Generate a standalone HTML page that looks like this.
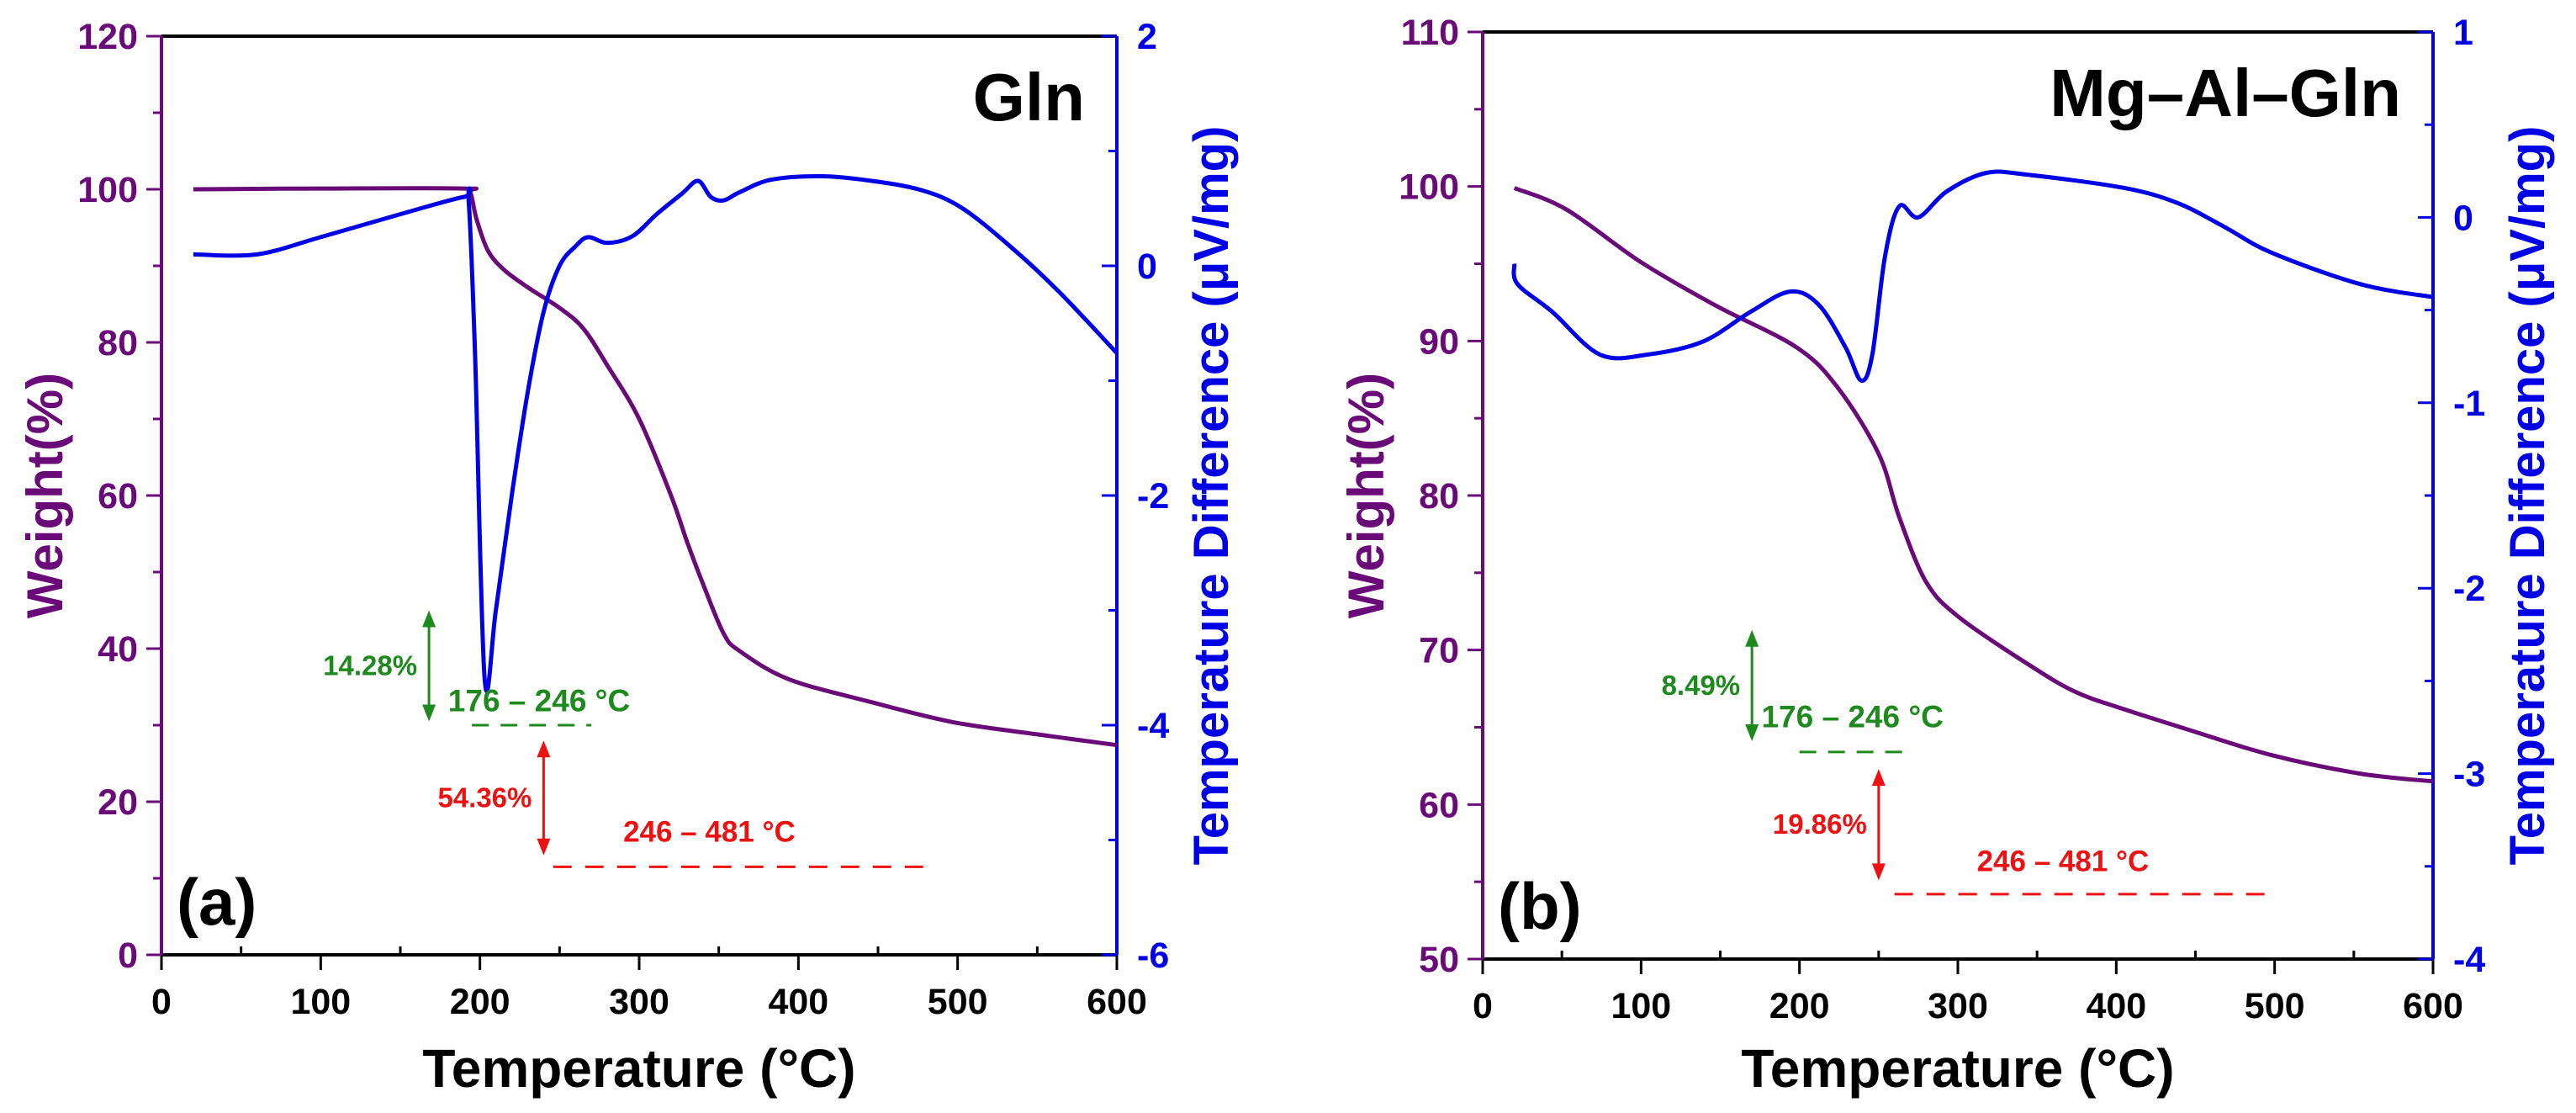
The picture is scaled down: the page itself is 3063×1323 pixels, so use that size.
<!DOCTYPE html>
<html><head><meta charset="utf-8"><style>
html,body{margin:0;padding:0;background:#fff}
svg{display:block;font-family:"Liberation Sans",Arial,sans-serif;font-weight:bold}
</style></head><body>
<svg id="chart" width="3063" height="1323" viewBox="0 0 3063 1323" xmlns="http://www.w3.org/2000/svg"></svg>
<script>
// Panel (a) Gln data
const aWeightT = [20,100,190,194,198,205,215,230,250,265,280,300,320,330,340,353,363,394,446,497,550,600];
const aWeightV = [100,100.1,100.1,99.6,96,92,89.5,87.2,84.5,81.8,77,70,60,54,48.5,42,39.7,36,33,30.4,28.8,27.4];
const aDtaT = [20,60,100,150,190,193,197,203,210,220,230,240,250,260,268,280,296,311,327,337,345,353,363,383,415,446,477,502,533,564,600];
const aDtaV = [0.1,0.1,0.25,0.45,0.6,0.55,-0.8,-3.6,-3.0,-2.0,-1.1,-0.4,0.0,0.17,0.25,0.2,0.26,0.45,0.63,0.74,0.6,0.57,0.64,0.75,0.78,0.74,0.66,0.51,0.17,-0.23,-0.76];
// Panel (b) Mg-Al-Gln data
const bWeightT = [20,53,100,147,198,224,250,263,280,301,344,374,404,447,498,554,600];
const bWeightV = [99.9,98.5,95.1,92.3,89.6,87,82.7,78.6,74.4,72.1,69.1,67.3,66.2,64.8,63.2,62,61.5];
const bDtaT = [20,22,44,74,104,139,169,194,212,229,239,246,254,263,275,293,318,344,404,438,468,498,554,600];
const bDtaV = [-0.25,-0.36,-0.51,-0.74,-0.74,-0.67,-0.51,-0.40,-0.47,-0.70,-0.88,-0.74,-0.21,0.06,0,0.14,0.24,0.23,0.16,0.08,-0.05,-0.19,-0.36,-0.43];
const xTicks = [0,100,200,300,400,500,600];
const aLeftTicks = [0,20,40,60,80,100,120];
const aRightTicks = [2,0,-2,-4,-6];
const bLeftTicks = [50,60,70,80,90,100,110];
const bRightTicks = [1,0,-1,-2,-3,-4];

const NS="http://www.w3.org/2000/svg";
const svg=document.getElementById('chart');
const PUR="#6a0a78", BLU="#0000e6", GRN="#1e8a1e", RED="#ee1111";
function el(tag,attrs,parent){const e=document.createElementNS(NS,tag);for(const k in attrs)e.setAttribute(k,attrs[k]);(parent||svg).appendChild(e);return e;}
function txt(s,attrs,parent){const e=el('text',attrs,parent);e.textContent=s;return e;}
function smooth(pts){let d='M'+pts[0][0]+','+pts[0][1];for(let i=0;i<pts.length-1;i++){const p0=pts[Math.max(0,i-1)],p1=pts[i],p2=pts[i+1],p3=pts[Math.min(pts.length-1,i+2)];const c1=[p1[0]+(p2[0]-p0[0])/6,p1[1]+(p2[1]-p0[1])/6];const c2=[p2[0]-(p3[0]-p1[0])/6,p2[1]-(p3[1]-p1[1])/6];d+=' C'+c1[0].toFixed(1)+','+c1[1].toFixed(1)+' '+c2[0].toFixed(1)+','+c2[1].toFixed(1)+' '+p2[0].toFixed(1)+','+p2[1].toFixed(1);}return d;}

function panel(cfg){
  const g=el('g',{});
  
  
  const X=t=>cfg.L+(t/600)*(cfg.R-cfg.L);
  const YL=v=>cfg.B-(v-cfg.lmin)/(cfg.lmax-cfg.lmin)*(cfg.B-cfg.T);
  const YR=v=>cfg.B-(v-cfg.rmin)/(cfg.rmax-cfg.rmin)*(cfg.B-cfg.T);
  const top=el('line',{x1:cfg.L,y1:cfg.T,x2:cfg.R,y2:cfg.T,stroke:'#000','stroke-width':4},g);
  
  const xa=el('line',{x1:cfg.L,y1:cfg.B,x2:cfg.R,y2:cfg.B,stroke:'#000','stroke-width':4},g);
  
  const la=el('line',{x1:cfg.L,y1:cfg.T,x2:cfg.L,y2:cfg.B,stroke:PUR,'stroke-width':4},g);
  
  const ra=el('line',{x1:cfg.R,y1:cfg.T,x2:cfg.R,y2:cfg.B,stroke:BLU,'stroke-width':4},g);
  
  for(let t=0;t<=600;t+=50){const maj=t%100===0;el('line',{x1:X(t),y1:cfg.B,x2:X(t),y2:cfg.B+(maj?18:-10),stroke:'#000','stroke-width':3},g);}
  xTicks.forEach(t=>{const e=txt(String(t),{x:X(t),y:cfg.B+70,'text-anchor':'middle','font-size':43,fill:'#000'},g);});
  const ls=cfg.lTicks[1]-cfg.lTicks[0];
  for(let v=cfg.lmin;v<=cfg.lmax+1e-9;v+=ls/2){const maj=Math.abs(((v-cfg.lmin)/ls)-Math.round((v-cfg.lmin)/ls))<1e-6;el('line',{x1:cfg.L,y1:YL(v),x2:cfg.L-(maj?18:10),y2:YL(v),stroke:PUR,'stroke-width':3},g);}
  cfg.lTicks.forEach(v=>{const e=txt(String(v),{x:cfg.L-28,y:YL(v)+15,'text-anchor':'end','font-size':43,fill:PUR},g);});
  const rs=Math.abs(cfg.rTicks[1]-cfg.rTicks[0]);
  for(let v=cfg.rmin;v<=cfg.rmax+1e-9;v+=rs/2){const maj=Math.abs(((v-cfg.rmin)/rs)-Math.round((v-cfg.rmin)/rs))<1e-6;el('line',{x1:cfg.R,y1:YR(v),x2:cfg.R-(maj?18:10),y2:YR(v),stroke:BLU,'stroke-width':3},g);}
  cfg.rTicks.forEach(v=>{const e=txt(String(v),{x:cfg.R+24,y:YR(v)+15,'text-anchor':'start','font-size':43,fill:BLU},g);});
  const xt=txt('Temperature (°C)',{x:(cfg.L+cfg.R)/2,y:1292,'text-anchor':'middle','font-size':64,fill:'#000'},g);
  
  const lt=txt('Weight(%)',{x:0,y:0,transform:`translate(${cfg.L-118},${(cfg.T+cfg.B)/2}) rotate(-90)`,'text-anchor':'middle','font-size':60,fill:PUR},g);
  
  const rt=txt('Temperature Difference (μV/mg)',{x:0,y:0,transform:`translate(${cfg.R+132},${(cfg.T+cfg.B)/2}) rotate(-90)`,'text-anchor':'middle','font-size':58,fill:BLU},g);
  
  const wp=el('path',{d:smooth(cfg.wT.map((t,i)=>[X(t),YL(cfg.wV[i])])),fill:'none',stroke:PUR,'stroke-width':5},g);
  
  const dp=el('path',{d:smooth(cfg.dT.map((t,i)=>[X(t),YR(cfg.dV[i])])),fill:'none',stroke:BLU,'stroke-width':5},g);
  
  function arrow(x,y1,y2,c,name){const a=el('g',{},g);
    el('line',{x1:x,y1:y1+14,x2:x,y2:y2-14,stroke:c,'stroke-width':3},a);
    el('polygon',{points:`${x},${y1} ${x-8},${y1+20} ${x+8},${y1+20}`,fill:c},a);
    el('polygon',{points:`${x},${y2} ${x-8},${y2-20} ${x+8},${y2-20}`,fill:c},a);}
  const A=cfg.ann;
  arrow(X(A.gx),YL(A.gTop),YL(A.gBot),GRN,'green-arrow');
  let e=txt(A.gPct,{x:X(A.gx)-14,y:YL((A.gTop+A.gBot)/2)+11,'text-anchor':'end','font-size':33,fill:GRN},g);
  e=txt('176 – 246 °C',{x:X(A.gTx),y:YL(A.gTy)+11,'font-size':37,fill:GRN},g);
  e=el('line',{x1:X(A.gd0),y1:YL(A.gdy),x2:X(A.gd1),y2:YL(A.gdy),stroke:GRN,'stroke-width':3,'stroke-dasharray':'20 14'},g);
  arrow(X(A.rx),YL(A.rTop),YL(A.rBot),RED,'red-arrow');
  e=txt(A.rPct,{x:X(A.rx)-14,y:YL((A.rTop+A.rBot)/2)+11,'text-anchor':'end','font-size':33,fill:RED},g);
  e=txt('246 – 481 °C',{x:X(A.rTx),y:YL(A.rTy)+11,'font-size':35,fill:RED},g);
  e=el('line',{x1:X(A.rd0),y1:YL(A.rdy),x2:X(A.rd1),y2:YL(A.rdy),stroke:RED,'stroke-width':3,'stroke-dasharray':'22 16'},g);
  e=txt(cfg.letter,{x:cfg.L+18,y:cfg.B-36,'font-size':78,fill:'#000'},g);
  e=txt(cfg.sample,{x:cfg.R-38,y:cfg.T+100,'text-anchor':'end','font-size':80,fill:'#000'},g);
}
panel({name:'panel-a',L:192,R:1328,T:43,B:1135,lmin:0,lmax:120,rmin:-6,rmax:2,lTicks:aLeftTicks,rTicks:aRightTicks,
  wT:aWeightT,wV:aWeightV,dT:aDtaT,dV:aDtaV,letter:'(a)',sample:'Gln',
  ann:{gx:168,gTop:45,gBot:30.5,gPct:'14.28%',gTx:180,gTy:33,gd0:195,gd1:270,gdy:30,
       rx:240,rTop:28,rBot:13,rPct:'54.36%',rTx:290,rTy:16,rd0:246,rd1:481,rdy:11.5}});
panel({name:'panel-b',L:1763,R:2893,T:38,B:1140,lmin:50,lmax:110,rmin:-4,rmax:1,lTicks:bLeftTicks,rTicks:bRightTicks,
  wT:bWeightT,wV:bWeightV,dT:bDtaT,dV:bDtaV,letter:'(b)',sample:'Mg–Al–Gln',
  ann:{gx:170,gTop:71.3,gBot:64.1,gPct:'8.49%',gTx:176,gTy:65.6,gd0:200,gd1:265,gdy:63.4,
       rx:250,rTop:62.3,rBot:55.1,rPct:'19.86%',rTx:312,rTy:56.3,rd0:260,rd1:500,rdy:54.2}});
</script>
</body></html>
